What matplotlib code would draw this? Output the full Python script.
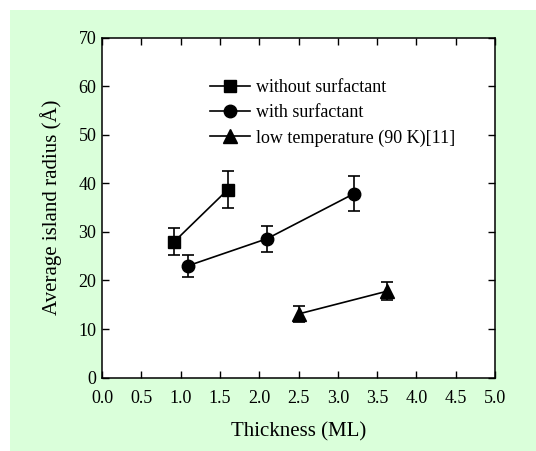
import numpy as np
import matplotlib
matplotlib.use('Agg')
import matplotlib.pyplot as plt
from matplotlib.patches import Rectangle

# data
x_without = [0.92, 1.60]
y_without = [28.0, 38.7]
e_without = [2.8, 3.8]

x_with = [1.09, 2.10, 3.21]
y_with = [23.0, 28.6, 37.9]
e_with = [2.2, 2.7, 3.6]

x_low = [2.50, 3.63]
y_low = [13.1, 17.8]
e_low = [1.6, 1.9]

plt.rcParams['font.family'] = ['Liberation Serif', 'DejaVu Serif']

fig = plt.figure(figsize=(5.36, 4.51), dpi=100)
# light green panel behind everything
fig.patches.append(Rectangle((10/536, 0), 1, 1 - 10/451, transform=fig.transFigure,
                             facecolor='#daffda', edgecolor='none', zorder=-10))

ax = fig.add_axes([102/536, 1 - 377.6/451, 393/536, 340/451])
ax.set_facecolor('white')

common = dict(color='black', lw=1.2, elinewidth=1.2, capsize=4.5, capthick=1.2)
ax.errorbar(x_without, y_without, yerr=e_without, marker='s', ms=8.5,
            label='without surfactant', **common)
ax.errorbar(x_with, y_with, yerr=e_with, marker='o', ms=9,
            label='with surfactant', **common)
ax.errorbar(x_low, y_low, yerr=e_low, marker='^', ms=9.5,
            label='low temperature (90 K)[11]', **common)

ax.set_xlim(0, 5)
ax.set_ylim(0, 70)
ax.set_xticks(np.arange(0, 5.01, 0.5))
ax.set_xticklabels(['%.1f' % v for v in np.arange(0, 5.01, 0.5)])
ax.set_yticks(np.arange(0, 71, 10))
ax.tick_params(direction='in', top=True, right=True, length=5, width=1,
               labelsize=13, colors='black')
ax.tick_params(axis='x', pad=9)
ax.tick_params(axis='y', pad=4)
for s in ax.spines.values():
    s.set_linewidth(1.1)

ax.set_xlabel('Thickness (ML)', fontsize=15, labelpad=11)
ax.set_ylabel('Average island radius (Å)', fontsize=15, labelpad=12)

handles, labels = ax.get_legend_handles_labels()
handles = [h[0] for h in handles]
ax.legend(handles, labels, loc='upper left', bbox_to_anchor=(0.275, 0.878),
          frameon=False, fontsize=13, borderpad=0, borderaxespad=0,
          handlelength=2.2, handletextpad=0.35, labelspacing=0.45)

fig.savefig('out.png', dpi=100)
